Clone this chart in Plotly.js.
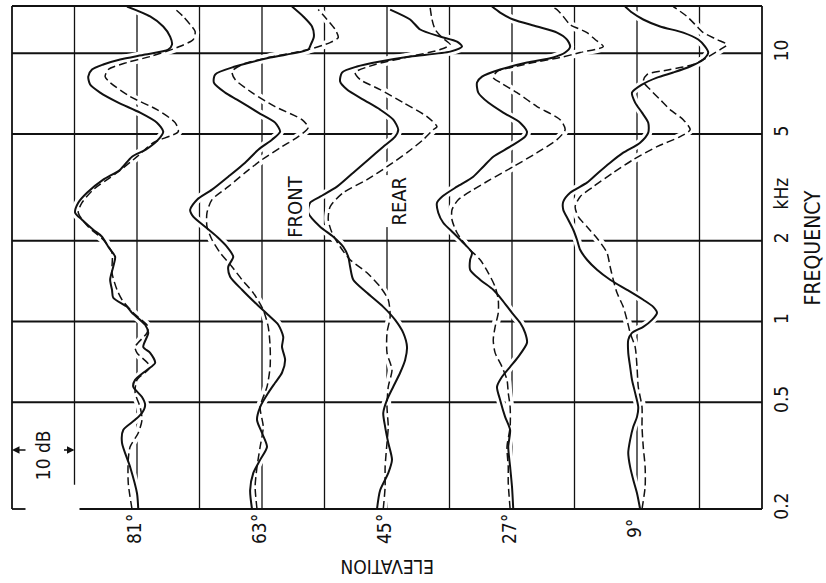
<!DOCTYPE html>
<html><head><meta charset="utf-8">
<script src="https://cdn.plot.ly/plotly-3.0.1.min.js"></script>
<style>html,body{margin:0;padding:0;background:#fff}#chart{width:826px;height:583px}</style>
</head><body><div id="chart"></div>
<script>
// Elevation labels and their level offsets (dB) on the shared level axis
const elevations = ['81°', '63°', '45°', '27°', '9°'];
const offsets = [100, 80, 60, 40, 20];
const freqTicks = [0.2, 0.5, 1, 2, 5, 10, 15];
const freqTickText = ['0.2', '0.5', '1', '2', '5', '10', '15'];
const freqGrid = [0.5, 1, 2, 5, 10];

// 81° elevation
const f81Front = [0.200,0.229,0.287,0.353,0.394,0.430,0.456,0.489,0.523,0.571,0.606,0.660,0.701,0.764,0.804,0.907,0.972,1.077,1.134,1.226,1.313,1.431,1.600,1.743,1.899,2.070,2.198,2.395,2.544,2.772,3.021,3.378,3.681,4.115,4.370,4.763,5.102,5.511,6.006,6.546,7.134,7.642,8.185,8.695,9.076,9.474,9.887,10.32,10.77,11.54,12.58,13.71,14.93];
const db81Front = [-0.2,0.0,1.1,2.4,2.2,0.3,-0.8,-1.3,-0.8,0.6,0.3,-1.6,-2.9,-2.1,-1.0,-1.8,-1.3,0.8,1.6,3.8,4.0,4.3,3.8,3.5,4.6,5.6,7.0,8.8,9.9,9.4,8.0,5.4,2.7,0.8,-1.4,-3.4,-4.2,-3.2,-0.5,3.0,5.9,7.5,7.8,7.2,5.4,2.7,-1.3,-5.0,-5.6,-5.3,-4.2,-2.1,1.6];
const f81Rear = [0.200,0.250,0.305,0.341,0.384,0.430,0.480,0.542,0.606,0.678,0.764,0.804,0.907,0.955,1.077,1.205,1.313,1.519,1.804,2.017,2.255,2.544,2.772,3.100,3.587,4.115,4.641,5.102,5.511,6.163,6.893,7.775,8.185,8.695,9.233,9.720,10.50,11.25,12.05,12.79,13.71,14.81];
const db81Rear = [0.8,1.4,1.4,1.1,-0.2,-0.8,-0.5,0.3,0.0,-2.1,0.0,0.3,-1.6,-1.8,0.6,2.4,3.2,4.0,4.0,5.4,7.8,9.4,8.8,7.0,3.2,0.0,-2.6,-6.6,-6.1,-3.2,1.1,4.3,5.1,4.6,1.6,-2.1,-6.4,-9.0,-9.3,-8.5,-7.4,-5.8];

// 63° elevation
const f63Front = [0.200,0.235,0.272,0.305,0.341,0.384,0.430,0.480,0.542,0.591,0.644,0.719,0.804,0.877,0.972,1.041,1.174,1.313,1.468,1.600,1.743,1.899,2.070,2.255,2.458,2.610,2.845,3.100,3.466,3.909,4.370,4.763,5.102,5.511,6.006,6.717,7.134,7.775,8.33,8.922,9.637,10.32,10.77,11.54,12.58,13.71,14.93];
const db63Front = [1.6,1.9,1.4,0.3,-0.8,0.0,0.8,0.3,-1.0,-2.1,-3.2,-3.7,-3.2,-3.4,-2.6,-1.3,1.1,3.2,5.1,5.4,4.6,5.6,7.2,9.1,11.0,11.5,10.4,8.0,5.4,2.7,0.6,-1.6,-2.9,-2.1,0.6,4.0,5.9,7.7,7.5,4.3,-1.3,-7.4,-7.8,-8.3,-8.0,-6.6,-4.8];
const f63Rear = [0.200,0.242,0.287,0.341,0.405,0.480,0.571,0.678,0.804,0.955,1.105,1.279,1.431,1.600,1.804,2.017,2.255,2.544,2.845,3.181,3.587,4.011,4.484,4.887,5.280,5.655,6.325,7.134,7.977,8.547,9.076,9.637,10.32,10.96,11.44,12.26,13.36,14.55];
const db63Rear = [0.8,1.1,0.8,0.3,-0.2,0.3,-0.8,-1.3,-1.3,-1.0,-0.2,1.4,3.2,4.8,6.7,8.0,8.8,8.8,8.0,5.4,2.7,0.0,-3.2,-5.8,-7.4,-6.4,-2.1,1.6,4.3,4.8,3.2,-1.0,-7.4,-10.9,-12.2,-11.7,-10.4,-9.0];

// 45° elevation
const f45Front = [0.200,0.235,0.272,0.305,0.353,0.405,0.456,0.510,0.571,0.644,0.719,0.804,0.907,1.014,1.134,1.279,1.431,1.600,1.743,1.899,2.070,2.255,2.544,2.772,2.919,3.181,3.587,4.011,4.484,4.887,5.190,5.655,6.163,6.717,7.321,7.842,8.474,8.922,9.313,9.720,10.14,10.59,11.05,11.54,12.26,13.36,14.55];
const db45Front = [1.6,1.1,-0.2,-0.8,-0.2,0.3,0.6,0.0,-1.0,-2.1,-2.9,-3.2,-2.6,-1.3,0.6,3.2,5.4,5.9,6.2,7.0,8.6,10.7,12.6,12.3,10.7,8.0,5.4,3.0,0.6,-1.3,-1.8,-1.0,1.1,3.8,6.4,7.5,7.2,4.8,1.1,-3.7,-10.1,-12.0,-11.2,-8.5,-5.3,-3.7,-0.5];
const f45Rear = [0.200,0.242,0.287,0.353,0.405,0.480,0.571,0.660,0.764,0.907,1.041,1.205,1.347,1.519,1.699,1.899,2.142,2.395,2.678,3.021,3.378,3.777,4.259,4.763,5.190,5.325,5.803,6.546,7.321,7.977,8.474,9.076,9.720,10.32,10.77,11.44,12.26,13.36,14.81];
const db45Rear = [0.6,0.3,0.3,0.0,-0.2,0.0,-0.2,-0.8,0.0,0.0,-0.5,-0.2,1.1,3.2,5.9,7.5,8.8,9.4,9.1,7.0,3.2,0.0,-3.2,-5.8,-7.4,-8.0,-6.4,-2.6,1.1,4.3,5.1,1.9,-3.7,-8.5,-10.1,-8.8,-7.7,-7.2,-6.9];

// 27° elevation
const f27Front = [0.200,0.242,0.287,0.341,0.394,0.441,0.510,0.571,0.622,0.678,0.738,0.833,0.907,0.989,1.077,1.205,1.313,1.431,1.559,1.699,1.804,1.966,2.142,2.334,2.544,2.772,2.919,3.181,3.466,3.777,4.115,4.484,4.887,5.102,5.511,6.006,6.546,7.134,7.775,8.185,8.695,9.233,9.637,10.06,10.59,11.25,11.94,12.58,13.36,14.18,14.93];
const db27Front = [-0.2,0.0,0.3,0.6,0.3,1.1,1.9,2.4,1.6,0.3,-1.0,-2.4,-2.1,-1.3,0.0,1.6,3.0,5.1,6.7,6.7,6.4,7.8,9.4,11.0,11.8,12.0,11.2,8.8,6.2,4.6,3.0,0.3,-2.1,-2.4,-1.3,1.4,3.8,5.4,5.6,4.8,1.9,-2.4,-6.6,-8.5,-9.3,-8.8,-7.2,-4.0,-0.2,1.9,3.2];
const f27Rear = [0.200,0.250,0.287,0.341,0.405,0.480,0.542,0.606,0.678,0.764,0.854,0.955,1.077,1.205,1.347,1.519,1.699,1.899,2.142,2.395,2.610,2.845,3.100,3.378,3.777,4.259,4.763,5.190,5.655,6.325,7.134,7.775,8.115,8.547,8.922,9.233,9.637,10.06,10.59,11.25,11.94,12.79,13.71,14.55,15.0];
const db27Rear = [0.3,0.6,0.6,0.8,0.3,0.3,0.6,0.8,1.6,2.7,3.0,2.7,2.2,2.2,2.7,3.8,5.1,7.2,8.8,9.6,9.6,8.6,6.2,3.5,-0.2,-4.0,-7.2,-8.5,-7.7,-4.0,-0.8,1.9,3.0,2.4,-0.5,-3.4,-7.7,-10.9,-14.6,-13.3,-12.0,-9.3,-8.2,-7.2,-6.1];

// 9° elevation
const f9Front = [0.200,0.229,0.257,0.287,0.324,0.362,0.405,0.441,0.480,0.542,0.606,0.678,0.764,0.854,0.907,0.955,1.014,1.077,1.134,1.205,1.313,1.431,1.559,1.699,1.851,2.017,2.198,2.395,2.610,2.796,3.021,3.292,3.587,3.909,4.259,4.641,5.058,5.511,6.006,6.546,7.134,7.642,8.115,8.474,8.922,9.474,10.06,10.59,11.25,11.94,12.58,13.36,14.18,14.93];
const db9Front = [-0.5,0.0,0.6,1.1,1.4,1.1,0.6,0.0,-0.2,0.3,0.8,1.1,1.4,1.4,0.8,-1.0,-2.4,-3.2,-2.6,-1.0,1.6,4.3,6.4,8.0,9.1,9.6,10.2,11.0,11.8,11.8,10.7,8.0,6.2,4.3,2.2,-0.5,-1.8,-1.8,-0.8,0.3,0.8,-0.8,-3.2,-5.8,-8.5,-10.6,-11.4,-10.9,-9.8,-7.4,-3.7,-1.0,0.8,1.9];
const f9Rear = [0.200,0.242,0.287,0.341,0.405,0.480,0.571,0.678,0.804,0.907,1.014,1.134,1.279,1.431,1.600,1.804,2.017,2.255,2.458,2.678,2.919,3.181,3.587,4.011,4.484,4.887,5.190,5.655,6.163,6.717,7.321,7.842,8.33,8.695,9.076,9.637,10.32,10.77,11.25,11.94,12.58,13.71,14.93];
const db9Rear = [-0.8,-1.3,-1.3,-1.0,-0.8,-0.8,-0.2,0.0,0.3,1.1,1.6,2.2,3.2,3.8,4.3,4.8,6.2,8.0,9.4,9.9,9.1,7.0,3.8,0.6,-3.2,-6.9,-8.5,-7.4,-5.3,-3.7,-2.1,-1.0,-1.6,-5.3,-9.0,-11.2,-13.3,-14.4,-12.8,-10.6,-9.6,-8.0,-5.8];

const frontF = [f81Front, f63Front, f45Front, f27Front, f9Front];
const frontDb = [db81Front, db63Front, db45Front, db27Front, db9Front];
const rearF = [f81Rear, f63Rear, f45Rear, f27Rear, f9Rear];
const rearDb = [db81Rear, db63Rear, db45Rear, db27Rear, db9Rear];

const FONT = 'DejaVu Sans Condensed, Liberation Sans Narrow, Liberation Sans, sans-serif';
const INK = '#111';

// white halos under the curves interrupt the grid lines where the curves cross them
const halos = [];
const traces = [];
elevations.forEach((el, i) => {
  const xf = frontDb[i].map(v => v + offsets[i]);
  const xr = rearDb[i].map(v => v + offsets[i]);
  [[xf, frontF[i]], [xr, rearF[i]]].forEach(([x, y]) => {
    halos.push({type: 'scatter', mode: 'lines', x: x, y: y, hoverinfo: 'skip',
      line: {color: '#fff', width: 8, shape: 'spline', smoothing: 0.7}});
  });
  traces.push({
    type: 'scatter', mode: 'lines', name: el + ' front',
    x: xf, y: frontF[i],
    line: {color: INK, width: 2, shape: 'spline', smoothing: 0.7},
    hoverinfo: 'skip'
  });
  traces.push({
    type: 'scatter', mode: 'lines', name: el + ' rear',
    x: xr, y: rearF[i],
    line: {color: INK, width: 1.5, dash: '8px,4px', shape: 'spline', smoothing: 0.7},
    hoverinfo: 'skip'
  });
});

const shapes = [];
const frameLine = {color: INK, width: 1.8};
shapes.push({type: 'line', xref: 'paper', yref: 'paper', x0: 0, x1: 1, y0: 1, y1: 1, line: frameLine});
shapes.push({type: 'line', xref: 'paper', yref: 'paper', x0: 1, x1: 1, y0: 0, y1: 1, line: frameLine});
shapes.push({type: 'line', xref: 'paper', yref: 'paper', x0: 0, x1: 0, y0: 0, y1: 1, line: frameLine});
shapes.push({type: 'line', xref: 'paper', yref: 'paper', x0: 0, x1: 0.018, y0: 0, y1: 0, line: frameLine});
shapes.push({type: 'line', xref: 'paper', yref: 'paper', x0: 0.09, x1: 1, y0: 0, y1: 0, line: frameLine});
for (let d = 10; d <= 110; d += 10) {
  shapes.push({type: 'line', xref: 'x', yref: 'paper', x0: d, x1: d,
    y0: d === 110 ? 0.048 : 0, y1: 1, line: {color: INK, width: 1.3}, layer: 'below'});
}
freqGrid.forEach(f => {
  shapes.push({type: 'line', xref: 'paper', yref: 'y', x0: 0, x1: 1, y0: f, y1: f,
    line: {color: INK, width: 1.9}, layer: 'below'});
});

const txt = (s) => ({family: FONT, size: s, color: INK});
const ann = (o) => Object.assign({showarrow: false, xanchor: 'center', yanchor: 'middle'}, o);
const annotations = [];
elevations.forEach((el, i) => {
  annotations.push(ann({xref: 'x', yref: 'paper', x: offsets[i], y: -0.040, xshift: -3,
    text: el, textangle: -90, font: txt(19)}));
});
annotations.push(ann({xref: 'x', yref: 'paper', x: 60, y: -0.115, text: 'ELEVATION',
  textangle: 180, font: txt(19)}));
annotations.push(ann({xref: 'paper', yref: 'paper', x: 1.068, y: 0.52, text: 'FREQUENCY',
  textangle: -90, font: txt(21)}));
annotations.push(ann({xref: 'paper', yref: 'y', x: 1.0253, y: Math.log10(3.0), text: 'kHz',
  textangle: -90, font: txt(19)}));
annotations.push(ann({xref: 'x', yref: 'y', x: 74.7, y: Math.log10(2.68), text: 'FRONT',
  textangle: -90, font: txt(20), bgcolor: '#fff'}));
annotations.push(ann({xref: 'x', yref: 'y', x: 58.1, y: Math.log10(2.82), text: 'REAR',
  textangle: -90, font: txt(20), bgcolor: '#fff'}));
annotations.push(ann({xref: 'x', yref: 'y', x: 115, y: Math.log10(0.318), text: '10 dB',
  textangle: -90, font: txt(19)}));
annotations.push({xref: 'x', yref: 'y', x: 120, y: Math.log10(0.332), text: '',
  showarrow: true, ax: 15, ay: 0, arrowhead: 2, arrowsize: 1, arrowwidth: 1.5, arrowcolor: INK});
annotations.push({xref: 'x', yref: 'y', x: 110, y: Math.log10(0.332), text: '',
  showarrow: true, ax: -12, ay: 0, arrowhead: 2, arrowsize: 1, arrowwidth: 1.5, arrowcolor: INK});

const layout = {
  width: 826, height: 583,
  margin: {l: 12, r: 64, t: 6, b: 74},
  paper_bgcolor: '#fff', plot_bgcolor: '#fff',
  showlegend: false,
  xaxis: {range: [120, 0], showgrid: false, zeroline: false, showticklabels: false,
    ticks: '', showline: false, fixedrange: true},
  yaxis: {type: 'log', range: [Math.log10(0.2), Math.log10(15)], side: 'right',
    tickvals: freqTicks, ticktext: freqTickText, tickangle: -90,
    showgrid: false, zeroline: false, showline: false, ticks: '',
    ticklabelstandoff: 6, tickfont: txt(19), fixedrange: true},
  shapes: shapes,
  annotations: annotations
};

Plotly.newPlot('chart', halos.concat(traces), layout, {staticPlot: true, displayModeBar: false});
</script>
</body></html>
